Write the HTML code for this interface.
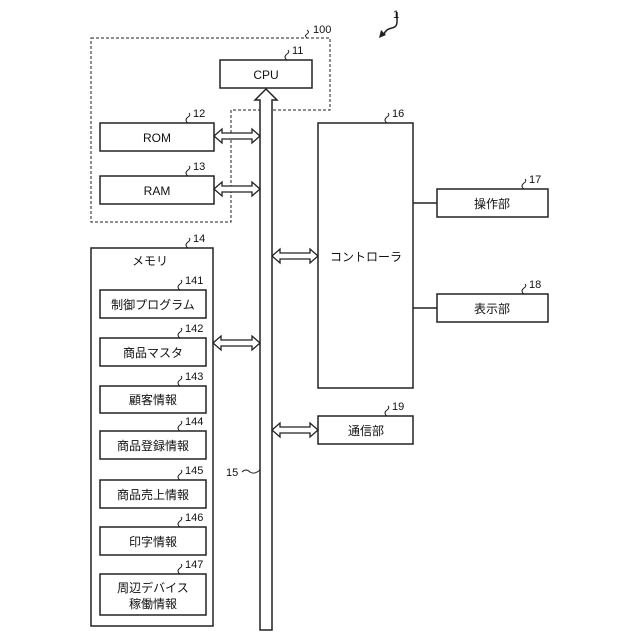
<!DOCTYPE html>
<html><head><meta charset="utf-8"><style>
html,body{margin:0;padding:0;background:#fff;}
svg{display:block}
text{font-family:"Liberation Sans","Noto Sans CJK JP",sans-serif;fill:#111;}
</style></head><body>
<svg width="640" height="640" viewBox="0 0 640 640" xmlns="http://www.w3.org/2000/svg">
<g fill="none" stroke="#222" stroke-width="1.5">
<!-- dashed region 100 -->
<path d="M91 38 H330 V110 H231 V222 H91 Z" stroke-dasharray="3,2" stroke-width="1"/>
<!-- CPU -->
<rect x="220" y="60" width="92" height="28"/>
<!-- bus -->
<path d="M260 630 V100 H255 L266 89 L277 100 H272 V630 Z" fill="#fff"/>
<!-- ROM RAM -->
<rect x="100" y="123" width="114" height="28"/>
<rect x="100" y="176" width="114" height="28"/>
<!-- controller -->
<rect x="318" y="123" width="95" height="265"/>
<rect x="437" y="189" width="111" height="28"/>
<rect x="437" y="294" width="111" height="28"/>
<path d="M413 203 H437 M413 308 H437"/>
<rect x="318" y="416" width="95" height="28"/>
<!-- memory -->
<rect x="91" y="248" width="122" height="378"/>
<rect x="100" y="290" width="106" height="28"/>
<rect x="100" y="338" width="106" height="28"/>
<rect x="100" y="386" width="106" height="27"/>
<rect x="100" y="431" width="106" height="28"/>
<rect x="100" y="480" width="106" height="28"/>
<rect x="100" y="527" width="106" height="28"/>
<rect x="100" y="574" width="106" height="41"/>
</g>
<!-- double arrows -->
<g fill="#fff" stroke="#222" stroke-width="1.3">
<path d="M214 136 l8 -7 v4 h30 v-4 l8 7 l-8 7 v-4 h-30 v4 z"/>
<path d="M214 189 l8 -7 v4 h30 v-4 l8 7 l-8 7 v-4 h-30 v4 z"/>
<path d="M213 343 l8 -7 v4 h31 v-4 l8 7 l-8 7 v-4 h-31 v4 z"/>
<path d="M272 256 l8 -7 v4 h30 v-4 l8 7 l-8 7 v-4 h-30 v4 z"/>
<path d="M272 430 l8 -7 v4 h30 v-4 l8 7 l-8 7 v-4 h-30 v4 z"/>
</g>
<!-- leader squiggles -->
<g fill="none" stroke="#222" stroke-width="1">
<path d="M307 38 q-3 -2 0 -4 q3 -2 0 -4"/>
<path d="M287 60 q-4 -3 0 -6 q3 -2 1 -4"/>
<path d="M188 123 q-4 -3 0 -6 q3 -2 1 -4"/>
<path d="M188 176 q-4 -3 0 -6 q3 -2 1 -4"/>
<path d="M188 248 q-4 -3 0 -6 q3 -2 1 -4"/>
<path d="M180 290 q-4 -3 0 -6 q3 -2 1 -4"/>
<path d="M180 338 q-4 -3 0 -6 q3 -2 1 -4"/>
<path d="M180 386 q-4 -3 0 -6 q3 -2 1 -4"/>
<path d="M180 431 q-4 -3 0 -6 q3 -2 1 -4"/>
<path d="M180 480 q-4 -3 0 -6 q3 -2 1 -4"/>
<path d="M180 527 q-4 -3 0 -6 q3 -2 1 -4"/>
<path d="M180 574 q-4 -3 0 -6 q3 -2 1 -4"/>
<path d="M387 123 q-4 -3 0 -6 q3 -2 1 -4"/>
<path d="M524 189 q-4 -3 0 -6 q3 -2 1 -4"/>
<path d="M524 294 q-4 -3 0 -6 q3 -2 1 -4"/>
<path d="M387 416 q-4 -3 0 -6 q3 -2 1 -4"/>
<path d="M242 472 q4 -4 8 0 q4 3 10 -2"/>
<path d="M397 12 v10 q0 5 -5 6 q-6 1 -8 6" stroke-width="1.5"/>
</g>
<path d="M379 38 l2 -8 l5 5 z" fill="#222"/>
<g font-size="11">
<text x="313" y="33">100</text>
<text x="393" y="18">1</text>
<text x="292" y="54">11</text>
<text x="193" y="117">12</text>
<text x="193" y="170">13</text>
<text x="193" y="242">14</text>
<text x="185" y="284">141</text>
<text x="185" y="332">142</text>
<text x="185" y="380">143</text>
<text x="185" y="425">144</text>
<text x="185" y="474">145</text>
<text x="185" y="521">146</text>
<text x="185" y="568">147</text>
<text x="392" y="117">16</text>
<text x="529" y="183">17</text>
<text x="529" y="288">18</text>
<text x="392" y="410">19</text>
<text x="226" y="476">15</text>
</g>
<g font-size="12" text-anchor="middle">
<text x="266" y="79">CPU</text>
<text x="157" y="142">ROM</text>
<text x="157" y="195">RAM</text>
<text x="366" y="261">コントローラ</text>
<text x="492" y="208">操作部</text>
<text x="492" y="313">表示部</text>
<text x="366" y="435">通信部</text>
<text x="150" y="265">メモリ</text>
<text x="153" y="309">制御プログラム</text>
<text x="153" y="357">商品マスタ</text>
<text x="153" y="404">顧客情報</text>
<text x="153" y="450">商品登録情報</text>
<text x="153" y="499">商品売上情報</text>
<text x="153" y="546">印字情報</text>
<text x="153" y="592">周辺デバイス</text>
<text x="153" y="608">稼働情報</text>
</g>
</svg>
</body></html>
